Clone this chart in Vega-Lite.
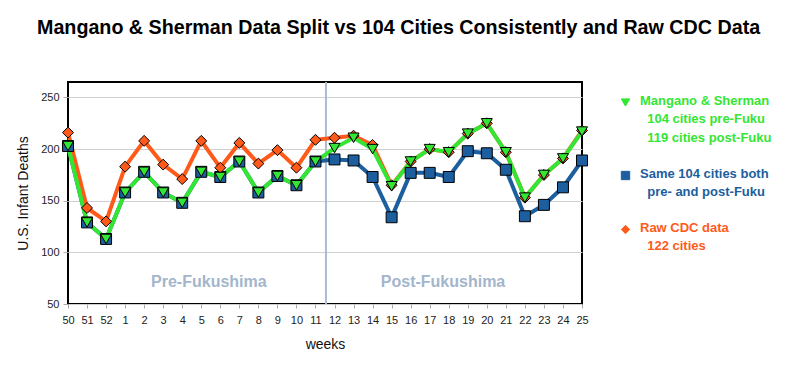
{
  "$schema": "https://vega.github.io/schema/vega-lite/v6.json",
  "autosize": {"type": "none"},
  "width": 514,
  "height": 222,
  "padding": {"left": 68, "top": 82, "right": 218, "bottom": 61},
  "background": "white",
  "config": {
    "font": "Liberation Sans",
    "view": {"stroke": "black", "strokeWidth": 2}
  },
  "title": {
    "text": "Mangano & Sherman Data Split vs 104 Cities Consistently and Raw CDC Data",
    "fontSize": 19.7,
    "fontWeight": "bold",
    "color": "black",
    "anchor": "start",
    "frame": "group",
    "dx": -31,
    "offset": 27,
    "baseline": "alphabetic"
  },
  "datasets": {
    "series": [
      {"i": 0, "week": 50, "series": "M&S", "value": 203},
      {"i": 1, "week": 51, "series": "M&S", "value": 129},
      {"i": 2, "week": 52, "series": "M&S", "value": 113},
      {"i": 3, "week": 1, "series": "M&S", "value": 158},
      {"i": 4, "week": 2, "series": "M&S", "value": 178},
      {"i": 5, "week": 3, "series": "M&S", "value": 158},
      {"i": 6, "week": 4, "series": "M&S", "value": 148},
      {"i": 7, "week": 5, "series": "M&S", "value": 178},
      {"i": 8, "week": 6, "series": "M&S", "value": 173},
      {"i": 9, "week": 7, "series": "M&S", "value": 188},
      {"i": 10, "week": 8, "series": "M&S", "value": 158},
      {"i": 11, "week": 9, "series": "M&S", "value": 174},
      {"i": 12, "week": 10, "series": "M&S", "value": 165},
      {"i": 13, "week": 11, "series": "M&S", "value": 188},
      {"i": 14, "week": 12, "series": "M&S", "value": 201},
      {"i": 15, "week": 13, "series": "M&S", "value": 211},
      {"i": 16, "week": 14, "series": "M&S", "value": 200},
      {"i": 17, "week": 15, "series": "M&S", "value": 164},
      {"i": 18, "week": 16, "series": "M&S", "value": 188},
      {"i": 19, "week": 17, "series": "M&S", "value": 200},
      {"i": 20, "week": 18, "series": "M&S", "value": 197},
      {"i": 21, "week": 19, "series": "M&S", "value": 215},
      {"i": 22, "week": 20, "series": "M&S", "value": 225},
      {"i": 23, "week": 21, "series": "M&S", "value": 197},
      {"i": 24, "week": 22, "series": "M&S", "value": 153},
      {"i": 25, "week": 23, "series": "M&S", "value": 175},
      {"i": 26, "week": 24, "series": "M&S", "value": 191},
      {"i": 27, "week": 25, "series": "M&S", "value": 217},
      {"i": 0, "week": 50, "series": "Same104", "value": 203},
      {"i": 1, "week": 51, "series": "Same104", "value": 129},
      {"i": 2, "week": 52, "series": "Same104", "value": 113},
      {"i": 3, "week": 1, "series": "Same104", "value": 158},
      {"i": 4, "week": 2, "series": "Same104", "value": 178},
      {"i": 5, "week": 3, "series": "Same104", "value": 158},
      {"i": 6, "week": 4, "series": "Same104", "value": 148},
      {"i": 7, "week": 5, "series": "Same104", "value": 178},
      {"i": 8, "week": 6, "series": "Same104", "value": 173},
      {"i": 9, "week": 7, "series": "Same104", "value": 188},
      {"i": 10, "week": 8, "series": "Same104", "value": 158},
      {"i": 11, "week": 9, "series": "Same104", "value": 174},
      {"i": 12, "week": 10, "series": "Same104", "value": 165},
      {"i": 13, "week": 11, "series": "Same104", "value": 188},
      {"i": 14, "week": 12, "series": "Same104", "value": 190},
      {"i": 15, "week": 13, "series": "Same104", "value": 189},
      {"i": 16, "week": 14, "series": "Same104", "value": 173},
      {"i": 17, "week": 15, "series": "Same104", "value": 134},
      {"i": 18, "week": 16, "series": "Same104", "value": 177},
      {"i": 19, "week": 17, "series": "Same104", "value": 177},
      {"i": 20, "week": 18, "series": "Same104", "value": 173},
      {"i": 21, "week": 19, "series": "Same104", "value": 198},
      {"i": 22, "week": 20, "series": "Same104", "value": 196},
      {"i": 23, "week": 21, "series": "Same104", "value": 180},
      {"i": 24, "week": 22, "series": "Same104", "value": 135},
      {"i": 25, "week": 23, "series": "Same104", "value": 146},
      {"i": 26, "week": 24, "series": "Same104", "value": 163},
      {"i": 27, "week": 25, "series": "Same104", "value": 189},
      {"i": 0, "week": 50, "series": "Raw", "value": 216},
      {"i": 1, "week": 51, "series": "Raw", "value": 143},
      {"i": 2, "week": 52, "series": "Raw", "value": 130},
      {"i": 3, "week": 1, "series": "Raw", "value": 183},
      {"i": 4, "week": 2, "series": "Raw", "value": 208},
      {"i": 5, "week": 3, "series": "Raw", "value": 185},
      {"i": 6, "week": 4, "series": "Raw", "value": 171},
      {"i": 7, "week": 5, "series": "Raw", "value": 208},
      {"i": 8, "week": 6, "series": "Raw", "value": 182},
      {"i": 9, "week": 7, "series": "Raw", "value": 206},
      {"i": 10, "week": 8, "series": "Raw", "value": 186},
      {"i": 11, "week": 9, "series": "Raw", "value": 199},
      {"i": 12, "week": 10, "series": "Raw", "value": 182},
      {"i": 13, "week": 11, "series": "Raw", "value": 209},
      {"i": 14, "week": 12, "series": "Raw", "value": 211},
      {"i": 15, "week": 13, "series": "Raw", "value": 213},
      {"i": 16, "week": 14, "series": "Raw", "value": 204},
      {"i": 17, "week": 15, "series": "Raw", "value": 165},
      {"i": 18, "week": 16, "series": "Raw", "value": 188},
      {"i": 19, "week": 17, "series": "Raw", "value": 200},
      {"i": 20, "week": 18, "series": "Raw", "value": 197},
      {"i": 21, "week": 19, "series": "Raw", "value": 215},
      {"i": 22, "week": 20, "series": "Raw", "value": 225},
      {"i": 23, "week": 21, "series": "Raw", "value": 197},
      {"i": 24, "week": 22, "series": "Raw", "value": 153},
      {"i": 25, "week": 23, "series": "Raw", "value": 175},
      {"i": 26, "week": 24, "series": "Raw", "value": 191},
      {"i": 27, "week": 25, "series": "Raw", "value": 218}
    ],
    "notes": [
      {"x": 7.4, "y": 71, "label": "Pre-Fukushima"},
      {"x": 19.7, "y": 71, "label": "Post-Fukushima"}
    ],
    "divider": [{"x": 13.55}]
  },
  "encoding": {
    "x": {
      "field": "i", "type": "quantitative",
      "scale": {"domain": [0, 27], "nice": false, "zero": false},
      "axis": {
        "title": "weeks", "titleFontSize": 14, "titleFontWeight": "normal", "titleColor": "#111", "titlePadding": 12,
        "values": [0,1,2,3,4,5,6,7,8,9,10,11,12,13,14,15,16,17,18,19,20,21,22,23,24,25,26,27],
        "labelExpr": "datum.value < 3 ? 50 + datum.value : datum.value - 2",
        "labelOverlap": false, "labelFlush": false,
        "labelFontSize": 11, "labelColor": "#222", "labelPadding": 6,
        "grid": false, "domain": false, "tickSize": 4, "tickColor": "#aaa"
      }
    },
    "y": {
      "field": "value", "type": "quantitative",
      "scale": {"domain": [50, 265], "nice": false, "zero": false},
      "axis": {
        "title": "U.S. Infant Deaths", "titleFontSize": 14, "titleFontWeight": "normal", "titleColor": "#111", "titlePadding": 10,
        "values": [50, 100, 150, 200, 250],
        "labelFontSize": 11, "labelColor": "#222", "labelPadding": 4, "labelFlush": false,
        "grid": true, "gridColor": "#d0d0d0", "domain": false, "tickSize": 5, "tickColor": "#aaa"
      }
    },
    "color": {
      "field": "series", "type": "nominal",
      "scale": {"domain": ["M&S", "Same104", "Raw"], "range": ["#33e633", "#1c5e9e", "#ff5a1a"]},
      "legend": {
        "orient": "none", "legendX": 551, "legendY": 14, "title": null,
        "symbolSize": 70, "symbolStrokeColor": "black", "symbolStrokeWidth": 1,
        "labelFontSize": 13, "labelFontWeight": "bold", "labelLimit": 300, "labelOffset": 8,
        "rowPadding": 22,
        "labelExpr": "datum.value == 'M&S' ? ['Mangano & Sherman', '\u200b\u00a0\u00a0104 cities pre-Fuku', '\u200b\u00a0\u00a0119 cities post-Fuku'] : datum.value == 'Same104' ? ['Same 104 cities both', '\u200b\u00a0\u00a0pre- and post-Fuku'] : ['Raw CDC data', '\u200b\u00a0\u00a0122 cities']",
        "labelBaseline": "top",
        "encode": {
          "symbols": {"update": {"stroke": {"value": "black"}, "strokeWidth": {"value": 1}}},
          "labels": {"update": {"fill": {"scale": "color", "field": "value"}, "lineHeight": {"value": 18.5}, "dy": {"value": -8}}}
        }
      }
    }
  },
  "layer": [
    {
      "data": {"name": "divider"},
      "mark": {"type": "rule", "color": "#a9bcd2", "strokeWidth": 2},
      "encoding": {
        "x": {"field": "x", "type": "quantitative"},
        "y": null,
        "color": null
      }
    },
    {
      "data": {"name": "notes"},
      "mark": {"type": "text", "fontSize": 16, "fontWeight": "bold", "color": "#a3b6cc", "align": "center", "baseline": "middle"},
      "encoding": {
        "x": {"field": "x", "type": "quantitative"},
        "y": {"field": "y", "type": "quantitative"},
        "color": null,
        "text": {"field": "label"}
      }
    },
    {
      "data": {"name": "series"},
      "transform": [{"filter": "datum.series == 'Same104'"}],
      "mark": {"type": "line", "strokeWidth": 4},
      "encoding": {}
    },
    {
      "data": {"name": "series"},
      "transform": [{"filter": "datum.series == 'Raw'"}],
      "mark": {"type": "line", "strokeWidth": 4},
      "encoding": {}
    },
    {
      "data": {"name": "series"},
      "transform": [{"filter": "datum.series == 'M&S'"}],
      "mark": {"type": "line", "strokeWidth": 4},
      "encoding": {}
    },
    {
      "data": {"name": "series"},
      "mark": {"type": "point", "filled": true, "stroke": "black", "strokeWidth": 1, "opacity": 1, "size": 120},
      "encoding": {
        "shape": {
          "field": "series", "type": "nominal",
          "scale": {"domain": ["M&S", "Same104", "Raw"], "range": ["triangle-down", "square", "diamond"]}
        },
        "order": {"field": "series", "sort": "descending"}
      }
    }
  ]
}
